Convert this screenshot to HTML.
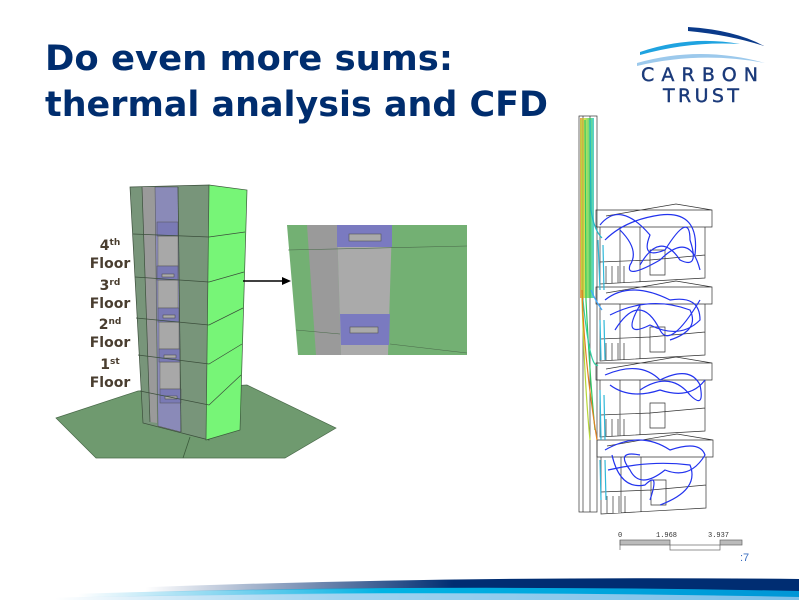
<!DOCTYPE html>
<html><head><meta charset="utf-8"><style>
html,body{margin:0;padding:0;background:#fff;}
svg{display:block;}
</style></head><body>
<svg width="799" height="600" viewBox="0 0 799 600" xmlns="http://www.w3.org/2000/svg">
<defs>
<linearGradient id="nav" x1="0" x2="1" y1="0" y2="0">
<stop offset="0.15" stop-color="#002d72" stop-opacity="0"/><stop offset="0.55" stop-color="#002d72"/><stop offset="1" stop-color="#002d72"/></linearGradient>
<linearGradient id="mid" x1="0" x2="1"><stop offset="0.05" stop-color="#00a0dc" stop-opacity="0"/><stop offset="0.45" stop-color="#00b4e4"/><stop offset="1" stop-color="#0096d6"/></linearGradient>
<linearGradient id="lt" x1="0" x2="1"><stop offset="0.02" stop-color="#7ec3ea" stop-opacity="0"/><stop offset="0.4" stop-color="#9fd3f0"/><stop offset="1" stop-color="#7bbfe8"/></linearGradient>
<linearGradient id="stack" x1="0" x2="1"><stop offset="0" stop-color="#e07a20"/><stop offset="0.3" stop-color="#c8d820"/><stop offset="0.7" stop-color="#30d050"/><stop offset="1" stop-color="#20c0c0"/></linearGradient>
</defs>
<!-- Title -->
<g font-family="'DejaVu Sans',Verdana,sans-serif" font-weight="bold" font-size="35" fill="#002d6e">
<text x="45" y="70" textLength="408" lengthAdjust="spacingAndGlyphs">Do even more sums:</text>
<text x="45" y="116" textLength="503" lengthAdjust="spacingAndGlyphs">thermal analysis and CFD</text>
</g>
<!-- Logo -->
<path d="M688 27 Q735 30 764 46 Q730 35 688 31Z" fill="#0a3a8a"/>
<path d="M640 52 Q690 35 740 44 Q690 41 640 55Z" fill="#1fa3e0"/>
<path d="M637 63 Q700 45 765 63 Q700 51 637 66Z" fill="#9cc9ec"/>
<g font-family="'DejaVu Sans',sans-serif" font-size="19" fill="#1b3a7a" stroke="#1b3a7a" stroke-width="0.4">
<text x="641" y="81" textLength="117" lengthAdjust="spacing">CARBON</text>
<text x="663" y="102" textLength="76" lengthAdjust="spacing">TRUST</text>
</g>
<!-- Ground -->
<polygon points="56,418 138,391 247,385 336,428 285,458 96,458" fill="#6f9a6f" stroke="#4a6a4a" stroke-width="0.7"/>
<line x1="190" y1="437" x2="183" y2="458" stroke="#3c5a3c" stroke-width="0.8"/>
<!-- Tower -->
<polygon points="130,187 209,185 209,440 143,423" fill="#78957a" stroke="#3c4f3c" stroke-width="0.7"/>
<polygon points="142,187 155,187 157,423 150,422" fill="#9a9a9a"/>
<polygon points="155,187 178,187 181,432 158,426" fill="#8a8ab8" stroke="#555" stroke-width="0.5"/>
<polygon points="209,185 247,190 240,430 206,440" fill="#77f577" stroke="#3c5a3c" stroke-width="0.7"/>
<g fill="#a8a8a8" stroke="#666" stroke-width="0.5">
<rect x="158" y="236" width="20" height="30"/><rect x="158" y="280" width="20" height="28"/>
<rect x="159" y="322" width="20" height="27"/><rect x="160" y="362" width="20" height="27"/>
</g>
<g fill="#7a7ab5" stroke="#555" stroke-width="0.5">
<rect x="157" y="266" width="21" height="14"/><rect x="158" y="308" width="21" height="14"/>
<rect x="159" y="349" width="21" height="13"/><rect x="160" y="389" width="21" height="14"/>
<rect x="157" y="222" width="21" height="14"/>
</g>
<g fill="#aaa" stroke="#444" stroke-width="0.5">
<rect x="162" y="274" width="12" height="3"/><rect x="163" y="315" width="12" height="3"/>
<rect x="164" y="355" width="12" height="3"/><rect x="165" y="396" width="12" height="3"/>
</g>
<g stroke="#3c4f3c" stroke-width="0.7" fill="none">
<path d="M133 234 L209 237 L245 232"/><path d="M135 277 L209 282 L244 272"/>
<path d="M136 318 L209 325 L243 308"/><path d="M138 355 L209 364 L242 344"/>
<path d="M140 391 L209 405 L241 375"/>
<line x1="142" y1="187" x2="150" y2="422"/><line x1="178" y1="187" x2="181" y2="432"/>
</g>
<!-- Labels -->
<g font-family="'DejaVu Sans',Verdana,sans-serif" font-weight="bold" fill="#4a3e30" font-size="14" text-anchor="middle">
<text x="110" y="250">4<tspan font-size="9" dy="-5">th</tspan></text><text x="110" y="268">Floor</text>
<text x="110" y="290">3<tspan font-size="9" dy="-5">rd</tspan></text><text x="110" y="308">Floor</text>
<text x="110" y="329">2<tspan font-size="9" dy="-5">nd</tspan></text><text x="110" y="347">Floor</text>
<text x="110" y="369">1<tspan font-size="9" dy="-5">st</tspan></text><text x="110" y="387">Floor</text>
</g>
<!-- Arrow -->
<line x1="243" y1="281" x2="284" y2="281" stroke="#000" stroke-width="1.5"/>
<polygon points="291,281 282,277 282,285" fill="#000"/>
<!-- Inset -->
<polygon points="287,225 467,225 467,355 298,355" fill="#73b073"/>
<polygon points="307,225 337,225 341,355 316,355" fill="#9a9a9a"/>
<polygon points="337,225 392,225 388,355 341,355" fill="#aaaaaa"/>
<rect x="337" y="225" width="55" height="22" fill="#7a7ac0"/>
<polygon points="340,314 390,314 389,345 341,345" fill="#7a7ac0"/>
<rect x="349" y="234" width="32" height="7" fill="#aaa" stroke="#555" stroke-width="0.6"/>
<rect x="350" y="327" width="28" height="6" fill="#aaa" stroke="#555" stroke-width="0.6"/>
<g stroke="#4a6a4a" stroke-width="0.6" fill="none"><line x1="288" y1="250" x2="467" y2="246"/><line x1="296" y1="330" x2="340" y2="334"/><line x1="390" y1="344" x2="467" y2="353"/></g>
<!-- CFD -->
<g fill="none" stroke="#333" stroke-width="0.7">
<rect x="579" y="116" width="18" height="396"/>
<line x1="583" y1="116" x2="583" y2="512"/><line x1="590" y1="116" x2="590" y2="512"/>
<g id="fl">
<path d="M596 210 L712 210 L712 227 L596 227Z M600 227 L705 227 L705 278 L600 284 Z M606 216 L676 204 L712 210 M600 262 L650 260 L705 255 M640 227 L640 282 M620 227 L620 283 M606 266 L606 283 M612 266 L612 283 M618 266 L618 283 M624 266 L624 283 M650 250 L665 250 L665 275 L650 275Z"/>
</g>
<use href="#fl" transform="translate(0,77)"/>
<use href="#fl" transform="translate(0,153)"/>
<use href="#fl" transform="translate(1,230)"/>
</g>
<rect x="580" y="118" width="14" height="180" fill="url(#stack)" opacity="0.75"/>
<g fill="none" stroke-width="1.2">
<path d="M581 120 L582 300 Q585 390 590 440" stroke="#b8d838"/>
<path d="M585 120 L586 300 Q590 380 595 430" stroke="#30c860"/>
<path d="M590 120 L591 210 Q594 230 602 238" stroke="#20b8c8"/>
<path d="M583 300 Q590 370 598 365" stroke="#30d0a0"/>
<path d="M582 290 Q584 360 597 440" stroke="#e08020"/>
<path d="M591 290 Q595 300 602 310" stroke="#40a8ff"/>
<path d="M598 240 L600 290 M603 245 L604 290 M600 320 L601 360 M604 320 L605 360 M600 390 L601 440 M604 395 L605 440 M600 460 L601 500 M605 460 L606 500" stroke="#30b8d8"/>
</g>
<g fill="none" stroke="#2233ee" stroke-width="1.2">
<path d="M600 225 Q620 200 650 235 Q640 260 665 250 Q690 210 690 240 Q700 270 680 260 Q660 230 640 265"/>
<path d="M605 240 Q625 220 660 215 Q700 210 695 255"/>
<path d="M620 230 Q640 250 630 265 Q625 280 660 260 Q690 230 700 270"/>
<path d="M605 300 Q630 280 670 300 Q700 295 700 320 Q680 340 650 325 Q620 340 640 305"/>
<path d="M610 315 Q650 295 690 310 Q700 330 670 340"/>
<path d="M615 330 Q640 290 660 330 Q670 350 700 300"/>
<path d="M605 375 Q640 360 660 380 Q690 365 700 385 Q705 410 690 395 Q670 370 640 390"/>
<path d="M610 385 Q630 400 660 390 Q690 400 705 380"/>
<path d="M605 450 Q640 430 670 450 Q700 440 705 455 Q690 480 665 470 Q640 490 630 470 Q615 450 640 455"/>
<path d="M608 470 Q650 460 690 465 Q700 490 660 505"/>
<path d="M612 455 Q620 490 645 485 Q660 470 650 500"/>
</g>
<!-- Scale -->
<g font-family="'Liberation Mono',monospace" font-size="7" fill="#333">
<text x="618" y="537">0</text><text x="656" y="537">1.968</text><text x="708" y="537">3.937</text>
</g>
<g stroke="#666" stroke-width="0.7">
<rect x="620" y="540" width="50" height="5" fill="#bbb"/>
<rect x="670" y="545" width="50" height="5" fill="#fff"/>
<rect x="720" y="540" width="22" height="5" fill="#bbb"/>
<line x1="620" y1="540" x2="620" y2="550"/>
</g>
<text x="740" y="561" font-family="'Liberation Sans',sans-serif" font-size="11" fill="#3a6ec0">:7</text>
<!-- Bottom swoosh -->
<path d="M30 592 Q400 575 799 579 L799 592 Q400 584 40 595Z" fill="url(#nav)"/>
<path d="M40 595 Q400 583 799 591 L799 598 Q400 590 50 598Z" fill="url(#mid)"/>
<path d="M40 598 Q400 589 799 597 L799 600 L40 600Z" fill="url(#lt)"/>
</svg>
</body></html>
